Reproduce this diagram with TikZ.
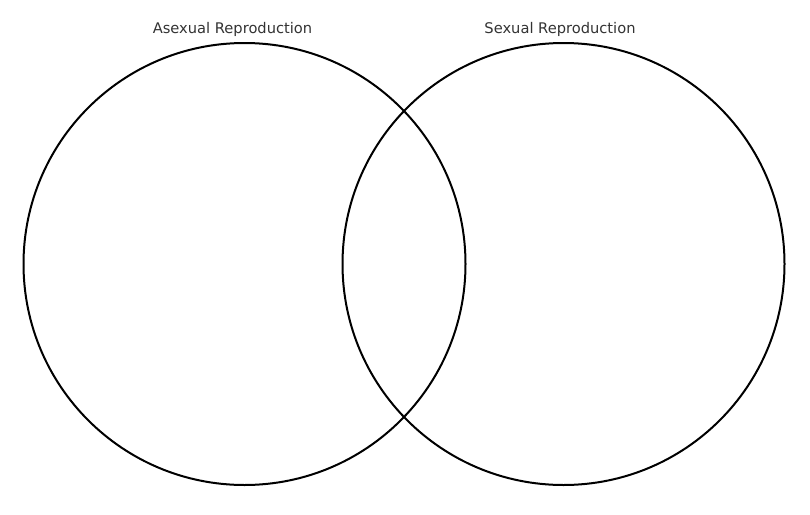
\documentclass[tikz,border=0pt]{standalone}
\usepackage{fontspec}
\setmainfont{DejaVu Sans}
\tikzset{every picture/.style={line width=1.5pt}}

\begin{document}
\begin{tikzpicture}[x=0.75pt,y=0.75pt,yscale=-1,xscale=1]
\useasboundingbox (0,0) rectangle (810,514);

%Shape: Circle [id:asexual]
\node [draw, circle, inner sep=0pt, minimum size=331.5pt] (asexual) at (244.5,264) {};
%Shape: Circle [id:sexual]
\node [draw, circle, inner sep=0pt, minimum size=331.5pt] (sexual) at (563.5,264) {};

% Text Node
\node [anchor=base, inner sep=0.75pt, font=\fontsize{11pt}{13pt}\selectfont, text=black!80] (asexuallabel) at (232.5,33.5) {Asexual Reproduction};
% Text Node
\node [anchor=base, inner sep=0.75pt, font=\fontsize{11pt}{13pt}\selectfont, text=black!80] (sexuallabel) at (560,33.5) {Sexual Reproduction};

\end{tikzpicture}
\end{document}
